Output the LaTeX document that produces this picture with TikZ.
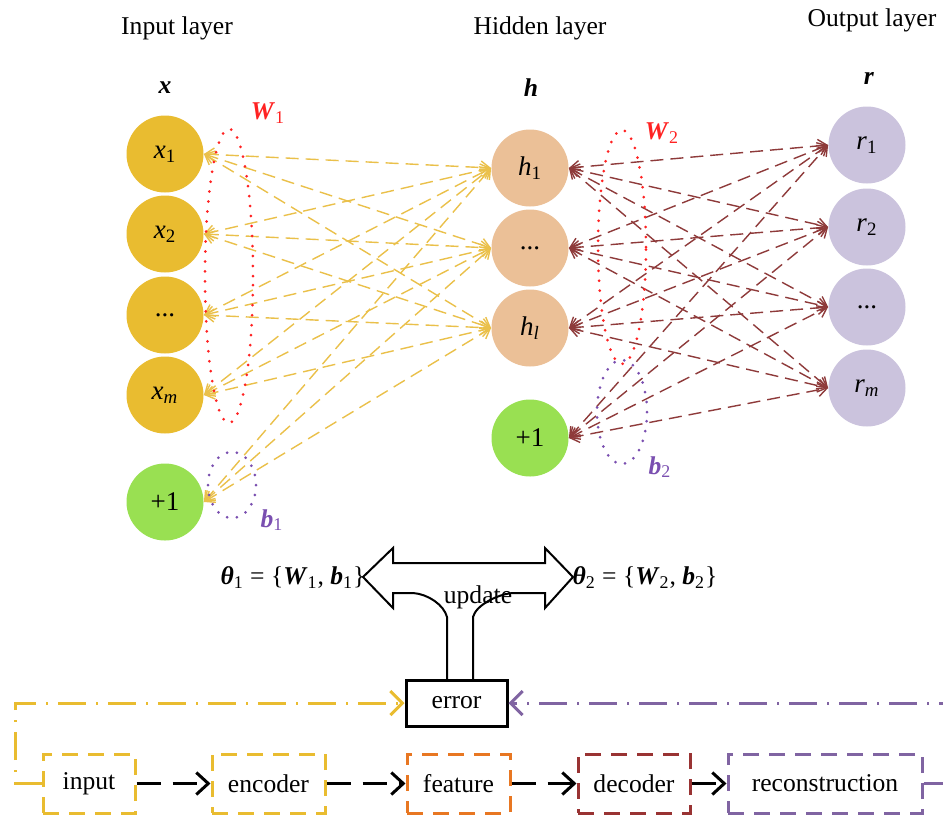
\documentclass[tikz,border=0pt]{standalone}
\usepackage{fontspec}
\setmainfont{Liberation Serif}
\usetikzlibrary{arrows.meta}
\definecolor{inyel}{HTML}{E9BC30}
\definecolor{grn}{HTML}{99E052}
\definecolor{peach}{HTML}{EBC097}
\definecolor{lav}{HTML}{CBC3DD}
\definecolor{lyel}{HTML}{EAC04A}
\definecolor{brn}{HTML}{8E3A3A}
\definecolor{wred}{HTML}{FF2222}
\definecolor{purp}{HTML}{7A4FB0}
\definecolor{bpurp}{HTML}{8064A2}
\definecolor{orng}{HTML}{E87722}
\definecolor{dred}{HTML}{993333}
\begin{document}
\begin{tikzpicture}[x=0.5pt,y=-0.5pt, font=\fontsize{12.8}{15}\selectfont,
 neuron/.style={circle, minimum size=38.5pt, inner sep=0pt, font=\fontsize{13.5}{15}\selectfont},
 conn/.style={line width=0.7pt, dash pattern=on 6.5pt off 3.5pt, {Straight Barb[length=4.5pt,width=6.5pt]}-{Straight Barb[length=4.5pt,width=6.5pt]}},
 grp/.style={line width=1.5pt, dash pattern=on 0pt off 5pt, line cap=round},
 stage/.style={draw, line width=1.5pt, dash pattern=on 8pt off 5pt, minimum height=29.5pt, inner sep=0pt},
 flow/.style={line width=1.5pt, dash pattern=on 12pt off 6pt, -{Straight Barb[length=6pt,width=11pt]}},
 fb/.style={line width=1.5pt, dash pattern=on 14pt off 5pt on 1pt off 5pt, -{Straight Barb[length=6pt,width=12pt]}},
 lbl/.style={inner sep=0pt}]
\useasboundingbox (0,0) rectangle (943,816);
\clip (0,0) rectangle (943,816);

% layer titles
\node[lbl] (tin) at (177,28) {Input layer};
\node[lbl] (thid) at (540,28) {Hidden layer};
\node[lbl] (tout) at (872,20) {Output layer};
\node[lbl] (vx) at (165,88) {\textbf{\textit{x}}};
\node[lbl] (vh) at (531,88) {\textbf{\textit{h}}};
\node[lbl] (vr) at (869,78) {\textbf{\textit{r}}};

% input layer
\node[neuron, fill=inyel] (x1) at (165,154) {\textit{x}\textsubscript{1}};
\node[neuron, fill=inyel] (x2) at (165,234) {\textit{x}\textsubscript{2}};
\node[neuron, fill=inyel] (x3) at (165,315) {...};
\node[neuron, fill=inyel] (x4) at (165,395) {\textit{x}\textsubscript{\textit{m}}};
\node[neuron, fill=grn] (bx) at (165,502) {+1};

% hidden layer
\node[neuron, fill=peach] (h1) at (530,168) {\textit{h}\textsubscript{1}};
\node[neuron, fill=peach] (h2) at (530,248) {...};
\node[neuron, fill=peach] (h3) at (530,328) {\textit{h}\textsubscript{\textit{l}}};
\node[neuron, fill=grn] (bh) at (530,438) {+1};

% output layer
\node[neuron, fill=lav] (r1) at (867,145) {\textit{r}\textsubscript{1}};
\node[neuron, fill=lav] (r2) at (867,227) {\textit{r}\textsubscript{2}};
\node[neuron, fill=lav] (r3) at (867,307) {...};
\node[neuron, fill=lav] (r4) at (867,388) {\textit{r}\textsubscript{\textit{m}}};

% connections
\foreach \a in {x1,x2,x3,x4,bx}
  \foreach \b in {h1,h2,h3}
    \draw[conn, lyel] (\a.east) -- (\b.west);
\foreach \a in {h1,h2,h3,bh}
  \foreach \b in {r1,r2,r3,r4}
    \draw[conn, brn] (\a.east) -- (\b.west);

% groups
\draw[grp, wred] (229,276) ellipse [x radius=12pt, y radius=73.5pt];
\draw[grp, purp] (232,485) ellipse [x radius=12pt, y radius=16.5pt];
\draw[grp, wred] (622,247) ellipse [x radius=12pt, y radius=58.5pt];
\draw[grp, purp] (622,412) ellipse [x radius=12.5pt, y radius=26pt];
\node[lbl, text=wred] (w1) at (268,113) {\textbf{\textit{W}}\textsubscript{1}};
\node[lbl, text=purp] (b1) at (272,520) {\textbf{\textit{b}}\textsubscript{1}};
\node[lbl, text=wred] (w2) at (662,133) {\textbf{\textit{W}}\textsubscript{2}};
\node[lbl, text=purp] (b2) at (660,467) {\textbf{\textit{b}}\textsubscript{2}};

% parameters and update arrow
\node[lbl] (th1) at (293,578) {\textbf{\textit{θ}}\textsubscript{1} = \{\textbf{\textit{W}}\textsubscript{1}, \textbf{\textit{b}}\textsubscript{1}\}};
\node[lbl] (th2) at (645,578) {\textbf{\textit{θ}}\textsubscript{2} = \{\textbf{\textit{W}}\textsubscript{2}, \textbf{\textit{b}}\textsubscript{2}\}};
\node[draw, line width=1.5pt, minimum width=50.5pt, minimum height=23pt, inner sep=0pt] (error) at (456.5,703) {error};
\draw[line width=1pt, line join=miter] (447,680) -- (447,617) .. controls (444,605) and (428,594) .. (413,593) -- (393,593) -- (393,608) -- (363,577) -- (393,548) -- (393,563) -- (545,563) -- (545,548) -- (573,577) -- (545,608) -- (545,593) -- (513,593) .. controls (498,594) and (476,605) .. (473,617) -- (473,680);
\node[lbl] (upd) at (478,597) {update};

% pipeline
\node[stage, draw=inyel, minimum width=46pt] (inp) at (89,783.5) {input};
\node[stage, draw=inyel, minimum width=56.5pt] (enc) at (268.5,783.5) {encoder};
\node[stage, draw=orng, minimum width=51.5pt] (feat) at (458.5,783.5) {feature};
\node[stage, draw=dred, minimum width=56pt] (dec) at (634,783.5) {decoder};
\node[stage, draw=bpurp, minimum width=97pt] (rec) at (825,783.5) {reconstruction};
\draw[flow] (inp.east) -- (enc.west);
\draw[flow] (enc.east) -- (feat.west);
\draw[flow] (feat.east) -- (dec.west);
\draw[flow] (dec.east) -- (rec.west);
\draw[fb, inyel] (inp.west) -- (15,783.5) -- (15,703) -- (error.west);
\draw[fb, bpurp] (rec.east) -- (955,783.5) -- (955,703) -- (error.east);
\end{tikzpicture}
\end{document}
